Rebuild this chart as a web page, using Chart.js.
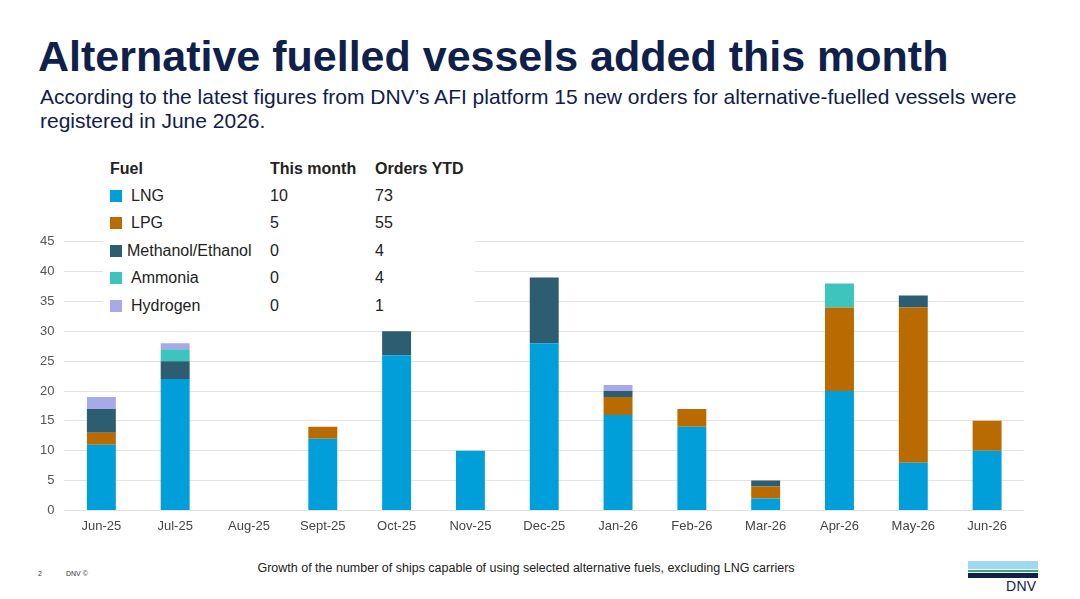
<!DOCTYPE html>
<html><head><meta charset="utf-8">
<script src="https://cdn.jsdelivr.net/npm/chart.js@4.4.1/dist/chart.umd.min.js"></script>
<style>
html,body{margin:0;padding:0;background:#fff;width:1080px;height:599px;overflow:hidden;font-family:"Liberation Sans",Arial,sans-serif;}
#title{position:absolute;left:38px;top:32px;font-size:43px;font-weight:bold;color:#0f204b;letter-spacing:0px;white-space:nowrap;}
#sub{position:absolute;left:40px;top:85px;font-size:21px;line-height:24px;color:#0f204b;width:985px;}
#wrap{position:absolute;left:0;top:224px;width:1060px;height:318px;}
#tbl{position:absolute;left:103px;top:155px;width:372px;background:#fff;padding:0;font-size:16px;color:#222;}
#tbl table{border-collapse:collapse;}
#tbl td{height:27.5px;padding:0;vertical-align:middle;white-space:nowrap;}
#tbl th{height:27px;text-align:left;padding:0;font-weight:bold;}
.sw{display:inline-block;width:12px;height:12px;margin-right:9px;vertical-align:-1px;}
#foot1{position:absolute;left:38px;top:570px;font-size:7px;color:#333;}
#foot2{position:absolute;left:66px;top:570px;font-size:7px;color:#333;}
#cap{position:absolute;left:0;width:1052px;top:561px;text-align:center;font-size:12.5px;color:#222;}
#logo{position:absolute;left:968px;top:561px;width:70px;}
#dnv{position:absolute;left:1006px;top:578px;font-size:14px;color:#0f204b;letter-spacing:0.3px;}
</style></head><body>
<div id="title">Alternative fuelled vessels added this month</div>
<div id="sub">According to the latest figures from DNV’s AFI platform 15 new orders for alternative-fuelled vessels were registered in June 2026.</div>
<div id="wrap"><canvas id="c"></canvas></div>
<div id="tbl"></div>
<div id="foot1">2</div><div id="foot2">DNV ©</div>
<div id="cap">Growth of the number of ships capable of using selected alternative fuels, excluding LNG carriers</div>
<div id="logo">
 <div style="height:8px;background:#9ed9ee"></div>
 <div style="height:1px;background:#fff"></div>
 <div style="height:2px;background:#3aa87a"></div>
 <div style="height:1px;background:#fff"></div>
 <div style="height:5px;background:#0f204b"></div>
</div>
<div id="dnv">DNV</div>
<script>
const categories = ["Jun-25","Jul-25","Aug-25","Sept-25","Oct-25","Nov-25","Dec-25","Jan-26","Feb-26","Mar-26","Apr-26","May-26","Jun-26"];
const lng      = [11,22,0,12,26,10,28,16,14,2,20,8,10];
const lpg      = [2,0,0,2,0,0,0,3,3,2,14,26,5];
const methanol = [4,3,0,0,4,0,11,1,0,1,0,2,0];
const ammonia  = [0,2,0,0,0,0,0,0,0,0,4,0,0];
const hydrogen = [2,1,0,0,0,0,0,1,0,0,0,0,0];
const fuelNames = ["LNG","LPG","Methanol/Ethanol","Ammonia","Hydrogen"];
const fuelColors = ["#009fda","#b96b00","#2c5d70","#3cc4bd","#a7a9e8"];
const thisMonth = [10,5,0,0,0];
const ordersYTD = [73,55,4,4,1];
const yTicks = [0,5,10,15,20,25,30,35,40,45];

// legend table
let h = '<table><tr><th style="width:160px;padding-left:7px">Fuel</th><th style="width:105px">This month</th><th style="width:100px">Orders YTD</th></tr>';
fuelNames.forEach((n,i)=>{
  h += '<tr><td style="padding-left:7px"><span class="sw" style="background:'+fuelColors[i]+'"></span>'+(i==2?'<span style="margin-left:-4px">':'<span>')+n+'</span></td><td>'+thisMonth[i]+'</td><td>'+ordersYTD[i]+'</td></tr>';
});
h += '</table>';
document.getElementById('tbl').innerHTML = h;

const series = [lng,lpg,methanol,ammonia,hydrogen];
new Chart(document.getElementById('c'),{
  type:'bar',
  data:{labels:categories,datasets:series.map((d,i)=>({label:fuelNames[i],data:d,backgroundColor:fuelColors[i],barPercentage:0.8,categoryPercentage:0.49}))},
  options:{
    responsive:true,maintainAspectRatio:false,animation:false,
    layout:{padding:{left:30,right:36,top:10,bottom:0}},
    plugins:{legend:{display:false},tooltip:{enabled:false}},
    scales:{
      x:{stacked:true,grid:{display:false,drawTicks:false},border:{display:false},ticks:{color:"#444",font:{size:13,family:"Liberation Sans"},padding:8}},
      y:{stacked:true,min:0,max:45,afterBuildTicks:ax=>{ax.ticks=yTicks.map(v=>({value:v}));},
         grid:{color:"#e3e3e3",drawTicks:false},border:{display:false},
         ticks:{color:"#555",font:{size:13,family:"Liberation Sans"},padding:10}}
    }
  }
});
</script>
</body></html>
